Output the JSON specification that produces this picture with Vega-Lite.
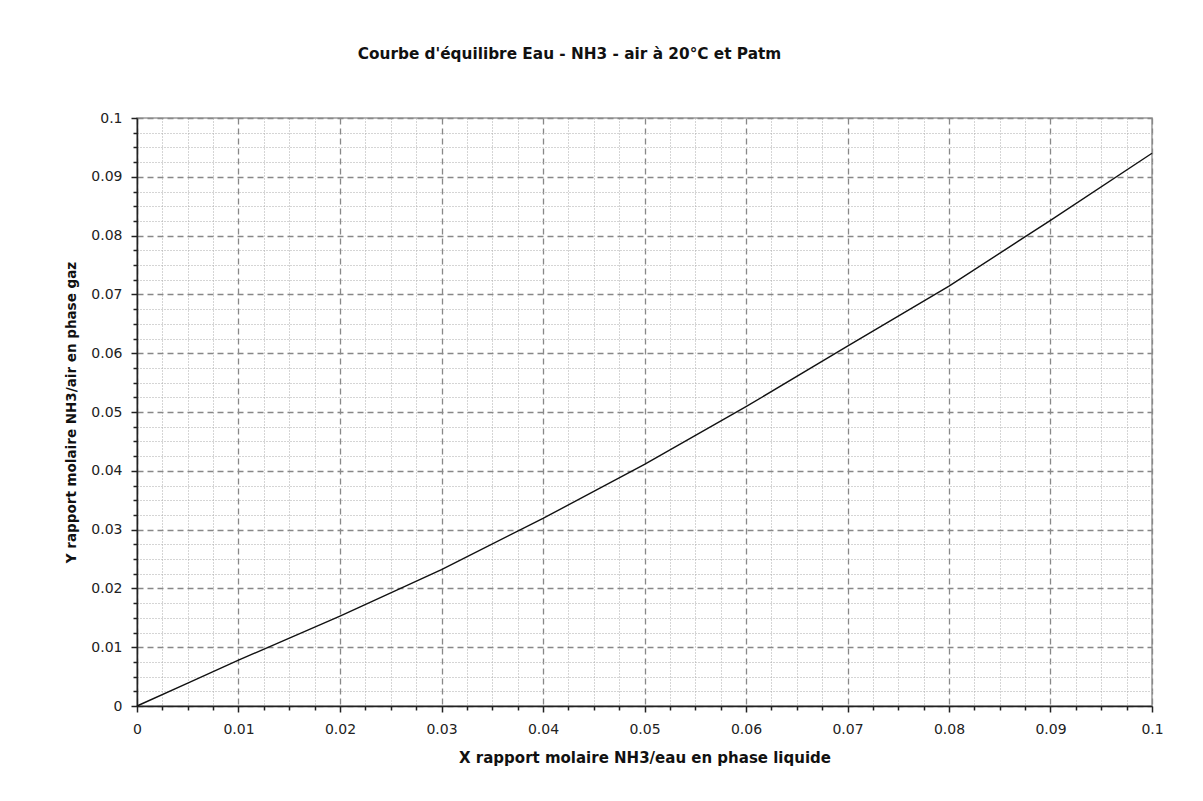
{
  "$schema": "https://vega.github.io/schema/vega-lite/v6.json",
  "autosize": "none",
  "width": 1015,
  "height": 588,
  "padding": {"left": 137, "top": 118, "right": 51, "bottom": 95},
  "background": "white",
  "config": {
    "view": {"stroke": "#9a9a9a", "strokeWidth": 1.5},
    "axis": {
      "labelFont": "DejaVu Sans",
      "labelFontSize": 14,
      "labelColor": "#222",
      "titleFont": "DejaVu Sans",
      "titleFontSize": 15,
      "titleFontWeight": "bold",
      "titleColor": "#111",
      "domainColor": "#222",
      "domainWidth": 1.5,
      "tickColor": "#222",
      "tickWidth": 1.5,
      "labelOverlap": false,
      "labelBound": false,
      "labelFlush": false
    }
  },
  "title": {
    "text": "Courbe d'équilibre Eau - NH3 - air à 20°C et Patm",
    "font": "DejaVu Sans",
    "fontSize": 15.3,
    "fontWeight": "bold",
    "color": "#111",
    "anchor": "middle",
    "frame": "group",
    "dx": -75,
    "offset": 37,
    "baseline": "alphabetic"
  },
  "data": {
    "values": [
      {"X": 0, "Y": 0},
      {"X": 0.005, "Y": 0.0039},
      {"X": 0.01, "Y": 0.0078},
      {"X": 0.02, "Y": 0.0153},
      {"X": 0.03, "Y": 0.0232},
      {"X": 0.04, "Y": 0.0319},
      {"X": 0.05, "Y": 0.0411},
      {"X": 0.06, "Y": 0.0509},
      {"X": 0.07, "Y": 0.0612},
      {"X": 0.08, "Y": 0.0714},
      {"X": 0.09, "Y": 0.0826},
      {"X": 0.1, "Y": 0.094}
    ]
  },
  "mark": {"type": "line", "color": "#111", "strokeWidth": 1.4},
  "encoding": {
    "x": {
      "field": "X",
      "type": "quantitative",
      "scale": {"domain": [0, 0.1], "nice": false, "zero": false},
      "axis": {
        "title": "X rapport molaire NH3/eau en phase liquide",
        "titlePadding": 14,
        "values": [0, 0.0025, 0.005, 0.0075, 0.01, 0.0125, 0.015, 0.0175, 0.02, 0.0225, 0.025, 0.0275, 0.03, 0.0325, 0.035, 0.0375, 0.04, 0.0425, 0.045, 0.0475, 0.05, 0.0525, 0.055, 0.0575, 0.06, 0.0625, 0.065, 0.0675, 0.07, 0.0725, 0.075, 0.0775, 0.08, 0.0825, 0.085, 0.0875, 0.09, 0.0925, 0.095, 0.0975, 0.1],
        "labelExpr": "abs(datum.value*100-round(datum.value*100))<1e-6 ? format(datum.value, '~g') : ''",
        "labelPadding": 10,
        "tickSize": {"condition": {"test": "abs(datum.value*100-round(datum.value*100))<1e-6", "value": 6}, "value": 4},
        "grid": true,
        "gridColor": {"condition": {"test": "abs(datum.value*100-round(datum.value*100))<1e-6", "value": "#888"}, "value": "#aaa"},
        "gridDash": {"condition": {"test": "abs(datum.value*100-round(datum.value*100))<1e-6", "value": [6, 4]}, "value": [1, 2]},
        "gridWidth": {"condition": {"test": "abs(datum.value*100-round(datum.value*100))<1e-6", "value": 1.3}, "value": 1}
      }
    },
    "y": {
      "field": "Y",
      "type": "quantitative",
      "scale": {"domain": [0, 0.1], "nice": false, "zero": false},
      "axis": {
        "title": "Y rapport molaire NH3/air en phase gaz",
        "titleFontSize": 13.5,
        "titlePadding": 12,
        "values": [0, 0.0025, 0.005, 0.0075, 0.01, 0.0125, 0.015, 0.0175, 0.02, 0.0225, 0.025, 0.0275, 0.03, 0.0325, 0.035, 0.0375, 0.04, 0.0425, 0.045, 0.0475, 0.05, 0.0525, 0.055, 0.0575, 0.06, 0.0625, 0.065, 0.0675, 0.07, 0.0725, 0.075, 0.0775, 0.08, 0.0825, 0.085, 0.0875, 0.09, 0.0925, 0.095, 0.0975, 0.1],
        "labelExpr": "abs(datum.value*100-round(datum.value*100))<1e-6 ? format(datum.value, '~g') : ''",
        "labelPadding": 9,
        "tickSize": {"condition": {"test": "abs(datum.value*100-round(datum.value*100))<1e-6", "value": 6}, "value": 4},
        "grid": true,
        "gridColor": {"condition": {"test": "abs(datum.value*100-round(datum.value*100))<1e-6", "value": "#888"}, "value": "#aaa"},
        "gridDash": {"condition": {"test": "abs(datum.value*100-round(datum.value*100))<1e-6", "value": [6, 4]}, "value": [1, 2]},
        "gridWidth": {"condition": {"test": "abs(datum.value*100-round(datum.value*100))<1e-6", "value": 1.3}, "value": 1}
      }
    }
  }
}
